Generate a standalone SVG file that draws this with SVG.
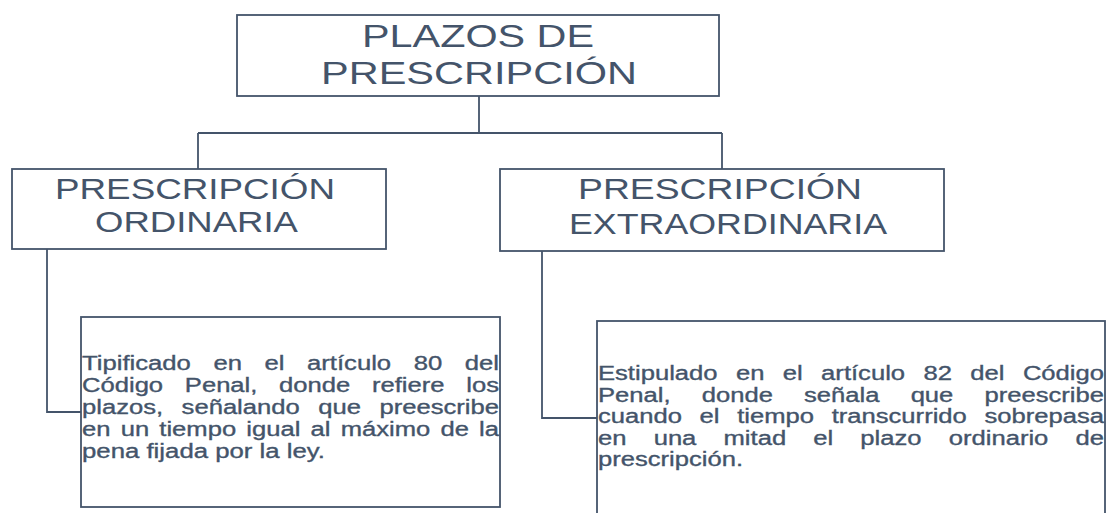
<svg xmlns="http://www.w3.org/2000/svg" width="1108" height="513" viewBox="0 0 1108 513">
<style>
.box{fill:#ffffff;stroke:#44546A;stroke-width:1.8}
.conn{fill:none;stroke:#44546A;stroke-width:1.8}
.t{font-family:"Liberation Sans",Arial,sans-serif;fill:#44546A}
.h1{font-size:32px}
.h2{font-size:29px}
.b{font-size:20px;stroke:#44546A;stroke-width:0.35}
</style>
<rect width="1108" height="513" fill="#ffffff"/>
<g id="connectors">
<path class="conn" d="M479,96 V133 M198,133 H722 M198,133 V169 M722,133 V169"/>
<path class="conn" d="M47,249 V412 H81"/>
<path class="conn" d="M542,251 V418 H597"/>
</g>
<g id="node-root">
<rect class="box" x="237" y="15" width="482" height="81"/>
<text class="t h1" x="362" y="47" textLength="232" lengthAdjust="spacingAndGlyphs">PLAZOS DE</text>
<text class="t h1" x="321" y="84" textLength="316" lengthAdjust="spacingAndGlyphs">PRESCRIPCIÓN</text>
</g>
<g id="node-ordinaria">
<rect class="box" x="12" y="169" width="374" height="80"/>
<text class="t h2" x="55" y="199" textLength="280" lengthAdjust="spacingAndGlyphs">PRESCRIPCIÓN</text>
<text class="t h2" x="95" y="232" textLength="203" lengthAdjust="spacingAndGlyphs">ORDINARIA</text>
</g>
<g id="node-extraordinaria">
<rect class="box" x="500" y="169" width="444" height="82"/>
<text class="t h2" x="578" y="199" textLength="284" lengthAdjust="spacingAndGlyphs">PRESCRIPCIÓN</text>
<text class="t h2" x="569" y="234" textLength="318" lengthAdjust="spacingAndGlyphs">EXTRAORDINARIA</text>
</g>
<g id="node-desc-ordinaria">
<rect class="box" x="81" y="317" width="419" height="190"/>
<text class="t b" x="82" y="370" word-spacing="12.02" textLength="417" lengthAdjust="spacingAndGlyphs">Tipificado en el artículo 80 del</text>
<text class="t b" x="82" y="392" word-spacing="11.42" textLength="417" lengthAdjust="spacingAndGlyphs">Código Penal, donde refiere los</text>
<text class="t b" x="82" y="414" word-spacing="8.91" textLength="417" lengthAdjust="spacingAndGlyphs">plazos, señalando que preescribe</text>
<text class="t b" x="82" y="436" word-spacing="2.40" textLength="417" lengthAdjust="spacingAndGlyphs">en un tiempo igual al máximo de la</text>
<text class="t b" x="82" y="458" textLength="243" lengthAdjust="spacingAndGlyphs">pena fijada por la ley.</text>
</g>
<g id="node-desc-extraordinaria">
<rect class="box" x="597" y="321" width="508" height="200"/>
<text class="t b" x="598" y="380" word-spacing="8.82" textLength="506" lengthAdjust="spacingAndGlyphs">Estipulado en el artículo 82 del Código</text>
<text class="t b" x="598" y="401.5" word-spacing="18.79" textLength="506" lengthAdjust="spacingAndGlyphs">Penal, donde señala que preescribe</text>
<text class="t b" x="598" y="423" word-spacing="8.24" textLength="506" lengthAdjust="spacingAndGlyphs">cuando el tiempo transcurrido sobrepasa</text>
<text class="t b" x="598" y="444.5" word-spacing="15.67" textLength="506" lengthAdjust="spacingAndGlyphs">en una mitad el plazo ordinario de</text>
<text class="t b" x="598" y="466" textLength="145" lengthAdjust="spacingAndGlyphs">prescripción.</text>
</g>
</svg>
